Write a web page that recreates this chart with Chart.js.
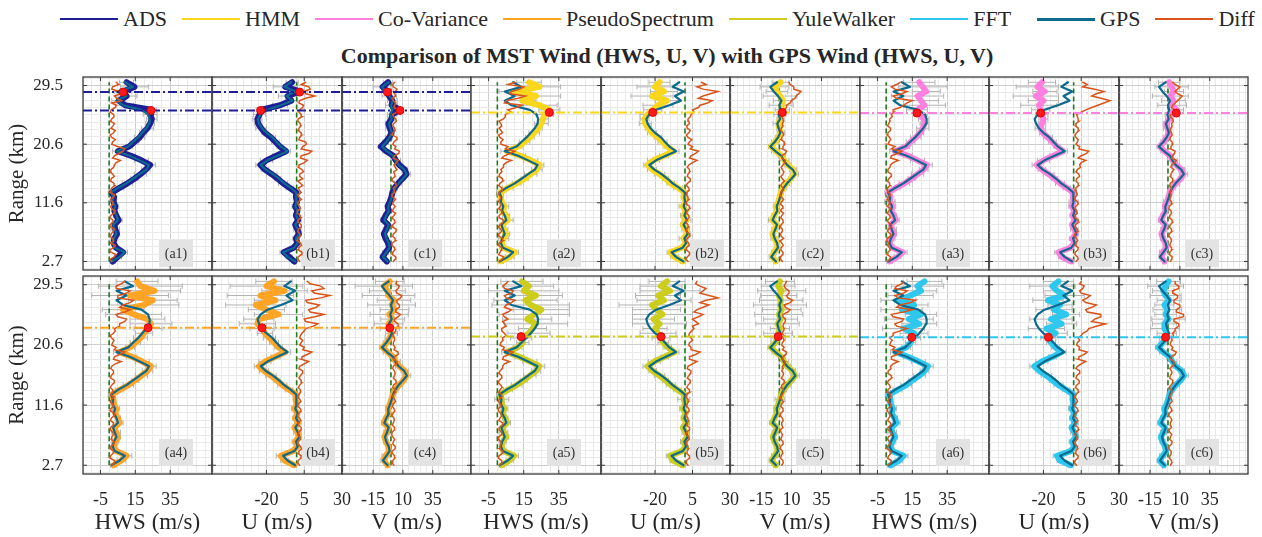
<!DOCTYPE html>
<html lang="en">
<head>
<meta charset="UTF-8">
<title>MST vs GPS wind</title>
<script src="https://cdn.jsdelivr.net/npm/chart.js"></script>
<style>
  body { margin: 0; background: #fff; width: 1262px; height: 537px; position: relative; overflow: hidden;
         font-family: "Liberation Serif", "DejaVu Serif", serif; color: #262626; }
  canvas { position: absolute; }
  #legend { position: absolute; left: 60px; top: 6px; display: flex; align-items: center; font-size: 22px; white-space: nowrap; }
  #legend .ln { display: inline-block; width: 58px; height: 2px; margin-right: 5px; }
  #legend .it { display: flex; align-items: center; margin-right: 15px; }
  #title { position: absolute; left: 667px; transform: translateX(-50%); top: 43px; font-weight: bold; font-size: 22px; white-space: nowrap; }
</style>
</head>
<body>
<div id="legend"></div>
<div id="title">Comparison of MST Wind (HWS, U, V) with GPS Wind (HWS, U, V)</div>
<script>
// heights (km) of the wind profile samples
const heights = [2.7, 3.4, 4.1, 4.8, 5.5, 6.2, 6.9, 7.6, 8.3, 9.0, 9.7, 10.4, 11.1, 11.8, 12.5, 13.2, 13.9, 14.6, 15.3, 16.0,
                 16.7, 17.4, 18.1, 18.8, 19.5, 20.2, 20.9, 21.6, 22.3, 23.0, 23.7, 24.4, 25.1, 25.8, 26.5, 27.2, 27.9, 28.6, 29.3, 30.0];
// heights (km) of the difference samples
const diffHeights = [2.7, 3.05, 3.4, 3.75, 4.1, 4.45, 4.8, 5.15, 5.5, 5.85, 6.2, 6.55, 6.9, 7.25, 7.6, 7.95, 8.3, 8.65, 9.0, 9.35,
                     9.7, 10.05, 10.4, 10.75, 11.1, 11.45, 11.8, 12.15, 12.5, 12.85, 13.2, 13.55, 13.9, 14.25, 14.6, 14.95, 15.3, 15.65, 16.0, 16.35,
                     16.7, 17.05, 17.4, 17.75, 18.1, 18.45, 18.8, 19.15, 19.5, 19.85, 20.2, 20.55, 20.9, 21.25, 21.6, 21.95, 22.3, 22.65, 23.0, 23.35,
                     23.7, 24.05, 24.4, 24.75, 25.1, 25.45, 25.8, 26.15, 26.5, 26.85, 27.2, 27.55, 27.9, 28.25, 28.6, 28.95, 29.3, 29.65, 30.0];

// GPS reference wind
const gpsHws = [1.3, 6, 9, 3.2, 2, 2.7, 4.2, 3.2, 2.3, 5.1, 4.2, 2.7, 3.4, 2, 2.3, 1.1, 5.1, 9.9, 13.7, 17.5, 21.3, 22.9, 17.5, 11.8, 4.2, 10.9, 13.7, 16.6, 19, 21.3, 22.9, 23.2, 22.3, 18.5, 8, 4.2, 9.9, 4.2, 13.7, 9];
const gpsU = [-1, -6, -9, -1.5, 0.7, -0.4, 1.8, 0.7, -0.9, 1.3, -0.4, 0.7, -0.9, 0, -0.4, 0, -3.8, -8.2, -11.6, -15.6, -20.4, -23.8, -19.3, -12.7, -6, -10.4, -13.3, -16, -20, -23, -24.9, -25.8, -23.8, -19.3, -10.4, -2.7, -6.7, -0.9, -8.2, -3.8];
const gpsV = [-2.8, -6.7, -3.9, -1.1, -1.9, -3.9, -5, -3.3, -1.9, -5.6, -3.9, -1.7, -2.2, -0.6, 0.6, 1.7, 3.6, 6.4, 10, 13.3, 11.1, 6.4, 3.6, 1.7, -3.3, -7.5, -3.9, -1.1, 0.8, -0.6, -1.7, 0.6, -0.6, 1.1, 0, 1.7, -1.1, -4.7, -7.5, -1.9];

// ADS
const adsHws = [2, 5, 8, 4, 2.5, 3, 4.5, 3.5, 3, 5.5, 4, 3, 3.5, 2.5, 2.8, 1.5, 6, 10.5, 14.5, 18, 21, 23.5, 18.5, 12.5, 5, 11.5, 14.5, 17.5, 19.5, 22, 23.5, 24.5, 23.5, 24, 9, 5.5, 10, 8, 14.5, 10];
const adsU = [-1.5, -5, -8.5, -2, 0.5, -0.5, 1.5, 0.5, -1, 1, -0.5, 0.5, -1, 0.2, -0.5, -0.2, -4.5, -9, -12.5, -16.5, -21, -24, -20, -13.5, -7, -11, -14, -17, -21, -23.5, -25.5, -26, -24.5, -23.8, -11, -3.5, -6, 2, -7.5, -3];
const adsV = [-3.5, -7, -4.5, -1.5, -2.5, -4.5, -6, -4, -2.5, -6.5, -4.5, -2, -2.8, -1, 0.3, 1.2, 3, 6, 9.5, 13, 11.5, 7, 4, 2, -4, -8.5, -4.5, -1.5, 0.5, -1, -2.2, 0.3, 1, 7.5, 0.5, 1.2, -1.5, -3, -7, -2.5];
const adsHwsDiff = [1.5, 0.5, 3, 4, 1, 0.3, 2.5, 3.5, 0.8, 2.6, 2, 0.5, 1.2, 2.2, 3, 1, 0.5, 1.8, 2.2, 0.4,
                    1, 2.8, 3.5, 1.5, 0.8, 2.4, 1.8, 0.8, 2.5, 3.2, 0.6, 1, 1.5, 3.2, 2.8, 0.9, 1.2, 3, 2, 0.6,
                    1, 2.6, 3, 4, 6.5, 2, 3, 5.5, 8, 9, 5, 1.5, 2, 3.5, 1.5, 0.6, 2.5, 3.5, 1, 2.2,
                    3, 0.8, 1.5, 2.8, 2.5, 0.7, 1.2, 3.5, 4, 1.5, 7, 4.5, 3, 6.5, 6, 1.5, 2, 5.5, 4];
const adsUDiff = [2, 0.8, 1, 3, 3.5, 1.2, 1.5, 3.2, 2.5, 0.6, 0.8, 2.4, 2, 0.7, 1.2, 3, 3, 1.2, 1, 2.8,
                  2.5, 0.5, 0.5, 2.6, 2, 0.8, 1, 3.2, 1.5, 0.6, 3, 1.8, 1.2, 4, 2.5, 0.8, 4, 2.2, 2, 4.5,
                  3.5, 1.2, 1.5, 5, 7, 2.5, 3, 8, 10, 3, 4, 6.5, 6, 1.5, 2, 3.5, 3, 1, 1.5, 2.8,
                  2.5, 0.8, 1, 3.5, 3, 1.5, 2, 4, 4.5, 1.5, 2, 6, 12, 6, 5, 9, 8, 3, 6];
const adsVDiff = [2, 3.5, 4, 1.2, 1.5, 3.2, 3, 0.8, 1, 3.8, 3.5, 1.5, 2, 4.2, 4.5, 1.2, 1.5, 3.5, 3, 0.8,
                  2.5, 3.8, 1, 2.2, 3.5, 1.5, 2, 3.8, 1.5, 0.6, 3, 2.8, 2, 4.5, 4, 1.2, 1, 3.5, 3, 2.2,
                  5, 3.5, 2.5, 4.5, 6, 2, 3, 6.5, 7, 3, 4, 1.5, 2.5, 4.5, 5, 1.2, 1.5, 3.5, 3, 1.5,
                  2, 4.5, 4, 2, 1.5, 5, 6, 2.5, 3, 4, 2, 1, 4, 3, 3.5, 5, 2, 1.5, 3];
const adsErr = [1.5, 2, 2.5, 1.5, 1, 2, 1.5, 2.5, 1, 2, 1.5, 1, 2, 1.5, 1, 2, 2.5, 3, 2, 3.5, 2.5, 3, 4, 2.5, 3, 2, 2.5, 3, 2, 3.5, 2.5, 3, 4, 3, 5, 4, 6, 5, 8, 4];
const adsThr = [28.5, 25.7];
const adsDots = [[8, 2, -3], [24, -23.8, 7.5]];

// HMM
const hmmHws = [2, 7, 10, 3, 2.5, 3.5, 5, 3.5, 3, 6, 5, 3, 4, 2.5, 2, 1.5, 6, 11, 15.5, 19, 22.5, 24, 19, 13, 5.5, 12, 15.5, 18.5, 21, 23.5, 25, 26, 27, 29.6, 24, 14, 22, 10, 24, 18];
const hmmU = [-1.5, -7, -10, -2, 0.5, -1, 1.5, 0.5, -1.5, 1, -1, 0.5, -1.5, 0.3, -1, -0.3, -4.5, -9.5, -13, -17, -22, -25, -21, -14, -7.5, -12, -15, -18, -22, -24.5, -26.5, -27, -25, -21.5, -18, -12, -22, -14, -20, -17];
const hmmV = [-3, -6, -4.5, -1.5, -2, -4, -5.5, -3.8, -2.2, -6, -4.2, -2, -2.5, -1, 0.2, 1.3, 3.2, 6, 9.5, 12.5, 11.5, 7, 4, 2, -3, -7, -3.5, -0.8, 1.2, 0, -1.2, 1, 0.5, 2.5, 1.5, 3, 0.5, -2, -4, 1];
const hmmHwsDiff = [1, 2.8, 3.5, 0.8, 1.5, 2.2, 2.5, 0.6, 1, 3.2, 3, 0.8, 0.8, 2.4, 2, 0.6, 1.5, 3.2, 3.5, 1.2,
                    1, 2.6, 2.5, 0.8, 1.8, 2.2, 0.6, 1.5, 2, 0.8, 1, 2.8, 2.5, 0.8, 1.5, 3.2, 3, 1, 1.2, 2.6,
                    2, 3.5, 3.5, 5, 8, 2.5, 4, 7, 10, 4.5, 6, 2, 2, 3.2, 1.5, 0.6, 3, 2, 1, 2.5,
                    2, 0.8, 3.5, 4.5, 4.5, 8, 6, 11, 14, 4, 5, 12, 16, 7, 8, 13, 15, 6, 10];
const hmmUDiff = [2, 0.6, 1.5, 3, 3, 0.8, 1, 2.8, 2.5, 0.8, 1.5, 3.2, 3, 1, 1, 2.4, 2, 0.6, 0.8, 2.8,
                  2.5, 1, 1.5, 3.2, 3, 0.8, 1, 2.6, 2, 0.8, 1.2, 2.8, 2.5, 1, 1.5, 3.5, 3.5, 1.5, 2, 3.2,
                  3, 1.5, 2.5, 5, 8, 3, 4, 7, 9, 3.5, 5, 2, 3, 4.5, 2, 1, 2.5, 3.5, 1.5, 1.2,
                  3, 2.5, 2, 3.5, 4, 6, 5, 9, 10, 15, 18, 9, 12, 17, 22, 12, 8, 14, 11];
const hmmVDiff = [2.5, 1, 1, 2.8, 3, 1.2, 1.5, 3.2, 2, 0.8, 3.5, 1.5, 1, 2.4, 2.5, 0.8, 1.5, 3.2, 3, 1.2,
                  2, 3.5, 1, 2.2, 3, 0.8, 2, 3.5, 1.5, 0.6, 1, 2.8, 3, 1.2, 2, 4.2, 2.5, 1.2, 3, 3.8,
                  2.5, 1.5, 3, 4.5, 5, 2, 2, 5, 6, 2.5, 3, 4.5, 4, 1.5, 2, 3.5, 3, 1.2, 1.5, 3,
                  2.5, 3.5, 3, 2, 2, 4.5, 4, 6, 6, 9, 10, 13, 14, 16, 18, 12, 12, 9, 8];
const hmmErr = [1.5, 2.5, 2, 1.5, 1, 3, 2, 2.5, 1.5, 3, 2, 1.5, 2.5, 1, 1.5, 2, 3, 2.5, 2, 3.5, 3, 2.5, 4, 3, 3.5, 2, 3, 2.5, 3, 2, 4, 3, 5, 6, 10, 8, 14, 9, 12, 7];
const hmmThr = [25.4];
const hmmDots = [[29.6, -21.5, 2.5]];

// Co-Variance
const covHws = [2, 6.5, 9.5, 3.5, 2, 3, 4.5, 3.5, 2.5, 5.5, 4.5, 3, 3.5, 2.2, 2.5, 1.3, 5.5, 10.5, 14.5, 18, 21.5, 23.5, 18, 12.5, 5, 11.5, 14, 17, 19.5, 21, 22, 21.5, 19.5, 17.7, 22, 20, 18, 23, 21, 19];
const covU = [-1.5, -8, -10, -2, 0.5, -0.8, 1.5, 0.5, -1.2, 1, -0.8, 0.5, -1.2, 0, -0.6, -0.2, -4.5, -9, -12.5, -16.5, -21, -24.5, -20, -13.5, -7, -11, -14, -17, -20.5, -22, -21, -20, -21, -21.8, -23, -20, -25, -19, -24, -21];
const covV = [-3, -5.5, -4.5, -1.5, -2.2, -4.2, -5.5, -3.5, -2.2, -6, -4.2, -2, -2.5, -0.8, 0.4, 1.5, 3.4, 6.8, 10.5, 13, 11.5, 6.8, 3.8, 2, -3, -7, -3.5, -1, 0.5, -0.3, -1.5, 1, 1.5, 7, 3.5, 4.5, 2, 5, 3, 1];
const covHwsDiff = [0.8, 2.2, 2.5, 0.6, 1, 2.4, 2, 0.8, 1.5, 0.4, 0.5, 2.6, 2.5, 0.8, 1.2, 2.8, 3, 1.2, 0.8, 2.4,
                    2, 0.6, 1.5, 2.5, 0.6, 1.8, 2.2, 0.6, 1, 2.6, 1.5, 0.5, 0.8, 2.2, 2, 0.8, 1.5, 2.8, 3, 1,
                    1, 2.2, 2.5, 4, 7, 2.5, 3, 6.5, 9, 3, 5, 1.2, 1.5, 2.6, 2, 0.6, 1, 2.5, 2.5, 0.8,
                    1.5, 2.2, 2, 3.5, 3, 4.5, 4, 8, 10, 12, 15, 6, 4, 9, 12, 5, 3, 6, 8];
const covUDiff = [1.5, 3, 2.5, 0.8, 1, 2.8, 3, 1.2, 1.5, 2.6, 2, 0.6, 0.8, 2.8, 2.5, 1, 1.2, 3.2, 3, 1,
                  1, 2.4, 2, 0.8, 1.5, 3, 2.5, 0.8, 1, 2.4, 2, 1, 1.5, 3.2, 3, 1.5, 2, 3.8, 3.5, 1.5,
                  2.5, 4.5, 4, 5, 8, 3, 5, 8.5, 10, 3.5, 4, 1.5, 2.5, 3, 1.5, 0.8, 2, 3.5, 3, 1.2,
                  1.5, 3.5, 3, 2.5, 2, 5, 8, 12, 16, 20, 24, 18, 12, 15, 20, 14, 6, 9, 6];
const covVDiff = [2, 3.2, 3.5, 1.2, 1.5, 3.2, 3, 1.5, 2, 3, 2.5, 0.8, 1, 3.2, 3, 1.2, 2, 3.8, 3.5, 1.2,
                  1.5, 3, 2.5, 0.8, 1, 3.2, 3, 1.5, 2, 2.8, 1.5, 2.5, 3, 1.5, 2, 4.2, 4, 2, 2.5, 3.5,
                  5, 2.5, 3, 5.5, 7, 3, 4, 5.5, 6, 2, 2.5, 4, 3.5, 1.5, 2, 3.5, 3, 1.5, 2.5, 3.5,
                  3, 4.5, 4, 2, 2, 4.5, 5, 3, 4, 6, 8, 10, 12, 8, 6, 8, 10, 6, 4];
const covErr = [1.5, 2, 2.5, 1.5, 1, 2, 1.5, 2.5, 1, 2, 1.5, 1, 2, 3, 1, 2, 2.5, 3, 2, 3.5, 2.5, 3, 4, 2.5, 3, 2, 2.5, 3, 2, 3.5, 2.5, 3, 4, 6, 12, 10, 15, 8, 14, 9];
const covThr = [25.3];
const covDots = [[17.7, -21.8, 7]];

// PseudoSpectrum
const psHws = [2.5, 7, 10, 4, 2.5, 3.5, 5, 4, 3, 6, 5, 3.5, 4, 2.5, 2.5, 1.5, 6, 11, 15, 18.5, 22, 24, 19, 13, 6, 12, 15, 18, 20, 22.3, 24, 22, 14, 8, 20, 25, 12, 26, 18, 16];
const psU = [-1.5, -8, -10.5, -2.5, 0.5, -1, 1.5, 0.5, -1.5, 1, -1, 0.5, -1.5, 0, -0.8, -0.3, -5, -9.5, -13, -17, -21.5, -25, -21, -14, -7.5, -12, -15, -18, -21, -22.9, -26, -25, -12, -20, -27, -14, -24, -8, -20, -15];
const psV = [-3, -6, -4.5, -1.5, -2.2, -4.2, -5.5, -3.5, -2.2, -6, -4.2, -2, -2.5, -0.8, 0.4, 1.5, 3.4, 6.8, 10.5, 13, 11.5, 6.8, 3.8, 2, -3, -7, -3.5, -1, 0.5, -1, -2, 1.5, -1.5, 3, 0.5, 2.5, -2, -3, -6, -1];
const psHwsDiff = [1.5, 2.8, 3, 0.6, 0.8, 2.2, 2.5, 0.8, 1, 2.6, 3, 1.2, 1.5, 2.4, 2, 0.6, 0.8, 2.2, 2.5, 0.8,
                   1.2, 2.8, 3, 0.8, 1, 2.4, 2, 0.6, 1.5, 2.8, 0.8, 2.2, 2, 0.6, 1.5, 2.8, 3, 0.8, 1.2, 2.4,
                   2.5, 1, 1.5, 3.5, 7, 2.5, 3, 6, 9, 3, 4, 1.5, 2, 2.8, 1.5, 0.6, 2.5, 3.5, 3, 6,
                   6, 9, 10, 5, 4, 9, 12, 6, 8, 12, 14, 5, 5, 10, 12, 4, 4, 7, 9];
const psUDiff = [2, 0.8, 1, 2.8, 3, 1, 1.5, 3.2, 2.5, 0.8, 1, 2.6, 2, 0.6, 1.5, 3, 3, 1.2, 1, 2.8,
                 2, 0.6, 1.5, 3, 2.5, 0.8, 1, 2.8, 2, 0.8, 1.5, 2.6, 2.5, 1, 2, 3.5, 3, 1.5, 2.5, 3.8,
                 4, 1.5, 2, 5, 8, 3, 3.5, 7, 10, 4, 5, 2, 3, 4, 2, 2.5, 3.5, 5, 6, 11,
                 14, 6, 5, 12, 18, 9, 8, 13, 15, 7, 6, 16, 22, 12, 10, 18, 16, 9, 7];
const psVDiff = [2.5, 1, 1.5, 3.2, 3, 1.2, 1, 3.5, 3.5, 1.5, 2, 3.2, 1.5, 0.6, 1, 2.8, 3, 1.2, 2, 2.8,
                 2.5, 0.8, 1.5, 3.2, 2.5, 1.2, 2, 3.8, 3, 1.5, 2, 3.8, 3.5, 1.5, 2, 4.5, 4, 2, 3, 3.5,
                 3, 1.5, 2, 5, 5, 2, 3, 6, 6, 2.5, 3.5, 2, 2, 3, 3, 1.5, 2.5, 4, 4, 6,
                 6, 3, 3, 6, 8, 4, 4, 7, 7, 5, 5, 8, 9, 5, 4, 6, 7, 4, 5];
const psErr = [1.5, 2.5, 3, 1.5, 1, 2, 1.5, 2.5, 1, 2, 1.5, 1, 2, 1.5, 1, 2, 2.5, 3, 2, 3.5, 3, 3, 4, 3, 3.5, 2.5, 3, 4, 5, 8, 12, 10, 16, 12, 20, 14, 22, 15, 24, 12];
const psThr = [23.1];
const psDots = [[22.3, -22.9, -1]];

// YuleWalker
const ywHws = [2.5, 7, 9.5, 3.5, 2.5, 3, 5, 3.5, 3, 5.5, 4.5, 3, 4, 2.5, 2.5, 1.5, 6, 11, 15, 18.5, 22, 24, 18.5, 12.5, 5.5, 11.5, 14.5, 13.5, 18, 20, 22, 17, 21, 25, 19, 16, 22, 15, 18, 14];
const ywU = [-1.5, -8, -10, -2, 0.5, -1, 1.5, 0.5, -1.5, 1, -1, 0.5, -1.5, 0, -0.8, -0.3, -5, -9.5, -13, -17, -21.5, -25, -20.5, -13.5, -7, -11.5, -14.5, -16, -18, -20, -17, -21, -15, -19, -22, -14, -18, -10, -16, -12];
const ywV = [-3, -6.5, -4, -1.5, -2, -4, -5.5, -3.5, -2, -6, -4, -2, -2.5, -0.8, 0.4, 1.5, 3.4, 6.5, 10, 13, 11, 6.5, 3.8, 2, -3, -7, -3.5, -1, -1, 0.5, -1.5, 1, -0.5, 2, 0.5, 1.5, -0.5, 2, -1, 0.5];
const ywHwsDiff = [1.2, 2.6, 2.5, 0.6, 1, 2.8, 3, 1.2, 1.5, 2.2, 2, 0.6, 0.8, 2.4, 2.5, 1, 1, 2.8, 3, 0.8,
                   1.5, 2.6, 2, 0.6, 0.6, 2, 1.8, 0.6, 1, 2.6, 2.5, 0.8, 1.5, 2.8, 2, 0.6, 1, 2.4, 2.5, 0.8,
                   1.5, 2.8, 3, 4, 7, 3, 3.5, 6.5, 9, 3, 4, 1.5, 2, 3.2, 3, 5, 4, 2.5, 2.5, 5,
                   4, 3, 6, 4, 3, 6, 8, 4, 5, 8, 10, 5, 4, 8, 9, 4, 3, 5, 6];
const ywUDiff = [2, 0.8, 1, 2.8, 3, 1.2, 1.5, 2.4, 2, 0.8, 1.2, 2.8, 2.5, 0.8, 1, 3, 3, 1.2, 1.5, 2.4,
                 2, 0.6, 1, 2.8, 2.5, 1, 1.5, 2.4, 2, 0.6, 1, 3.2, 3, 1.2, 2, 3.5, 3.5, 1.5, 2.5, 3.8,
                 4, 1.5, 2, 5, 8, 3, 3, 7, 10, 4, 4, 2.5, 3, 5, 4, 2.5, 3, 4.5, 6, 5,
                 9, 7, 5, 9, 12, 6, 8, 12, 16, 10, 14, 22, 16, 10, 12, 14, 10, 7, 8];
const ywVDiff = [2, 3.2, 3, 1, 1.5, 2.8, 2.5, 0.8, 1, 3.2, 3, 1.2, 2, 2.6, 1.5, 0.6, 3, 2, 2, 3.2,
                 2.5, 0.8, 1, 3.2, 3, 1.2, 2, 3.5, 1.5, 0.6, 2.5, 3.5, 3.5, 1.5, 2, 4.2, 4, 1.5, 3, 3.5,
                 2, 3, 2.5, 4.5, 5, 2, 3, 5.5, 6, 2.5, 4, 2, 2.5, 4, 3, 4, 2, 3.5, 4, 3,
                 3.5, 5, 5, 3, 3, 7, 9, 5, 4, 9, 11, 7, 6, 8, 8, 5, 4, 5, 6];
const ywErr = [1.5, 2, 2.5, 1.5, 1, 2, 1.5, 2.5, 1, 2, 1.5, 1, 2, 1.5, 4, 2, 2.5, 3, 2, 3.5, 2.5, 3, 4, 2.5, 3, 2.5, 3.5, 6, 12, 8, 18, 14, 20, 16, 22, 18, 15, 20, 14, 12];
const ywThr = [21.8];
const ywDots = [[13.5, -16, -1]];

// FFT
const fftHws = [2.5, 7.5, 10, 3.5, 2.5, 3.5, 5, 3.5, 3, 6, 5, 3, 4, 2.5, 2.5, 1.5, 6.5, 11.5, 15, 19, 22, 24, 18.5, 12.5, 5.5, 11.5, 14, 14.7, 16, 10, 19, 13, 20, 9, 16, 7, 14, 20, 18, 22];
const fftU = [-2, -9, -11, -2, 0.5, -1, 1.5, 0.5, -1.5, 1, -1, 0.5, -1.5, 0, -0.8, -0.3, -5, -10, -14, -18, -22.5, -26, -21, -14, -8, -12, -15, -16.7, -12, -18, -8, -15, -5, -13, -9, -17, -6, -11, -14, -10];
const fftV = [-3.5, -7, -4.5, -1.5, -2.5, -4.5, -6, -3.8, -2.5, -6.5, -4.5, -2.2, -3, -1, 0.2, 1.3, 3.2, 6.5, 10.5, 13.5, 11.5, 6.5, 3.5, 1.5, -4, -8, -4.5, -2, -1, -2.5, -3, 0.5, -2, -0.5, -3, 1, -2, -4, -2, 0.5];
const fftHwsDiff = [1, 2.6, 3, 0.8, 1.5, 2.8, 2.5, 0.6, 0.8, 2.2, 2, 0.8, 1.2, 3.2, 3, 1, 1, 2.8, 2.5, 0.8,
                    1.5, 2.4, 2, 0.6, 0.8, 2.8, 2.5, 0.8, 1.5, 2.8, 2.5, 0.8, 1, 2.4, 2, 0.6, 1.5, 3.2, 3, 1,
                    1.2, 2.8, 2.5, 4, 7, 3, 3, 6, 9, 3.5, 5, 2, 2.5, 3.5, 2, 4, 4, 8, 12, 6,
                    5, 9, 10, 4, 3, 10, 15, 6, 8, 14, 17, 7, 5, 10, 12, 5, 6, 9, 10];
const fftUDiff = [2, 0.6, 1, 2.8, 3, 1.2, 1.5, 2.6, 2.5, 0.8, 1, 2.4, 2, 0.8, 1.5, 3.2, 3, 1, 1, 2.8,
                  2, 0.6, 1.5, 3, 2.5, 0.8, 1, 2.6, 2, 0.6, 1.5, 3.2, 3, 1.2, 2, 3.8, 3.5, 1.5, 2, 3.8,
                  4, 1.5, 2.5, 5, 8, 3, 3.5, 7, 9, 3.5, 4, 2, 2.5, 4, 3, 5, 6, 9, 10, 15,
                  21, 12, 14, 18, 18, 9, 8, 12, 15, 8, 6, 9, 11, 5, 4, 6, 7, 4, 5];
const fftVDiff = [2, 3.2, 3, 1.2, 1.5, 2.8, 2.5, 0.8, 1, 3, 3.5, 1.5, 2, 3.2, 1.5, 0.6, 3, 2.2, 2, 3.2,
                  2.5, 0.8, 1, 3.2, 3, 1.2, 1.5, 3.5, 3, 1.2, 2, 3.5, 2.5, 1, 2.5, 4.2, 4, 1.5, 2, 3.2,
                  3, 1.5, 3.5, 5, 5, 2, 3, 6, 7, 3, 4, 2, 2, 3.5, 3, 4.5, 4, 6, 6, 9,
                  9, 5, 5, 13, 13, 7, 7, 10, 10, 5, 5, 8, 8, 4, 4, 9, 9, 6, 6];
const fftErr = [1.5, 2, 2.5, 1.5, 1, 2, 1.5, 2.5, 1, 2, 1.5, 1, 2, 1.5, 1, 2, 2.5, 3, 2, 3.5, 2.5, 3, 4, 2.5, 3, 2.5, 3, 5, 8, 12, 10, 14, 9, 12, 8, 10, 13, 9, 15, 10];
const fftThr = [21.7];
const fftDots = [[14.7, -16.7, -2]];

// names, colours, ticks
const methodNames = ['ADS', 'HMM', 'Co-Variance', 'PseudoSpectrum', 'YuleWalker', 'FFT'];
const methodColors = ['#1e1e96', '#fad61c', '#ff80df', '#ffa424', '#cdcd1e', '#2ec8ef'];
const gpsColor = '#0b6a8d';
const diffColor = '#d9541a';
const compTitles = ['HWS (m/s)', 'U (m/s)', 'V (m/s)'];
const compLetters = ['a', 'b', 'c'];
const hwsTicks = [-5, 15, 35];
const uTicks = [-20, 5, 30];
const vTicks = [-15, 10, 35];
const rangeTicks = ['2.7', '11.6', '20.6', '29.5'];

const methods = [
  { mst: [adsHws, adsU, adsV], diff: [adsHwsDiff, adsUDiff, adsVDiff], err: adsErr, thr: adsThr, dots: adsDots },
  { mst: [hmmHws, hmmU, hmmV], diff: [hmmHwsDiff, hmmUDiff, hmmVDiff], err: hmmErr, thr: hmmThr, dots: hmmDots },
  { mst: [covHws, covU, covV], diff: [covHwsDiff, covUDiff, covVDiff], err: covErr, thr: covThr, dots: covDots },
  { mst: [psHws, psU, psV], diff: [psHwsDiff, psUDiff, psVDiff], err: psErr, thr: psThr, dots: psDots },
  { mst: [ywHws, ywU, ywV], diff: [ywHwsDiff, ywUDiff, ywVDiff], err: ywErr, thr: ywThr, dots: ywDots },
  { mst: [fftHws, fftU, fftV], diff: [fftHwsDiff, fftUDiff, fftVDiff], err: fftErr, thr: fftThr, dots: fftDots }
];
const gps = [gpsHws, gpsU, gpsV];
const compTicks = [hwsTicks, uTicks, vTicks];

// layout
const xRanges = [[-15, 59], [-56, 30], [-41, 67]];
const yMin = 1.4, yMax = 30.8;
const PL = 83, PW = 129.44, PH = 198, ROWTOP = [77, 276];
const boxX = [93, 106, 83];
const FONT = '"Liberation Serif", "DejaVu Serif", serif';

// legend
const legend = document.getElementById('legend');
methodNames.concat(['GPS', 'Diff']).forEach((name, i) => {
  const col = i < 6 ? methodColors[i] : (i === 6 ? gpsColor : diffColor);
  const it = document.createElement('span');
  it.className = 'it';
  if (i === 6) it.style.marginLeft = '11px';
  it.innerHTML = '<span class="ln" style="background:' + col + (i === 6 ? ';height:3px' : '') + '"></span>' + name;
  legend.appendChild(it);
});

const framePlugin = {
  id: 'frame',
  beforeDatasetsDraw(chart, args, opts) {
    const { ctx, chartArea: a } = chart;
    ctx.save();
    ctx.fillStyle = '#e3e3e3';
    ctx.fillRect(a.left + opts.boxX - 17, a.top + 163, 34, 27);
    ctx.fillStyle = '#333';
    ctx.font = '14px ' + FONT;
    ctx.textAlign = 'center';
    ctx.textBaseline = 'middle';
    ctx.fillText(opts.label, a.left + opts.boxX, a.top + 177);
    ctx.restore();
  },
  afterDraw(chart, args, opts) {
    const { ctx, chartArea: a, scales } = chart;
    ctx.save();
    ctx.strokeStyle = '#3a3a3a';
    ctx.lineWidth = 1.3;
    ctx.strokeRect(a.left, a.top, a.right - a.left, a.bottom - a.top);
    ctx.lineWidth = 1;
    ctx.beginPath();
    opts.xMajor.forEach(v => {
      const px = scales.x.getPixelForValue(v);
      ctx.moveTo(px, a.bottom); ctx.lineTo(px, a.bottom - 4);
      ctx.moveTo(px, a.top); ctx.lineTo(px, a.top + 4);
    });
    scales.y.ticks.filter(t => t.isMajor).forEach(t => {
      const py = scales.y.getPixelForValue(t.value);
      ctx.moveTo(a.left, py); ctx.lineTo(a.left + 4, py);
      ctx.moveTo(a.right, py); ctx.lineTo(a.right - 4, py);
    });
    ctx.stroke();
    ctx.restore();
  }
};

function profile(hs, vals) {
  return hs.map((h, i) => ({ x: vals[i], y: h }));
}

function errorBars(vals, err) {
  const pts = [];
  heights.forEach((h, i) => {
    const lo = vals[i] - err[i], hi = vals[i] + err[i];
    pts.push({ x: lo, y: h }, { x: hi, y: h }, { x: null, y: null });
    pts.push({ x: lo, y: h - 0.4 }, { x: lo, y: h + 0.4 }, { x: null, y: null });
    pts.push({ x: hi, y: h - 0.4 }, { x: hi, y: h + 0.4 }, { x: null, y: null });
  });
  return pts;
}

function makePanel(m, c, row, col) {
  const meth = methods[m];
  const [xmin, xmax] = xRanges[c];
  const x0 = Math.round(PL + col * PW), x1 = Math.round(PL + (col + 1) * PW);
  const padL = col === 0 ? 83 : 24, padR = 24, padT = 8, padB = row === 1 ? 63 : 0;

  const cv = document.createElement('canvas');
  cv.width = x1 - x0 + padL + padR;
  cv.height = PH + padT + padB;
  cv.style.left = (x0 - padL) + 'px';
  cv.style.top = (ROWTOP[row] - padT) + 'px';
  document.body.appendChild(cv);

  const line = (data, color, width, extra) => Object.assign({
    data, borderColor: color, backgroundColor: color, borderWidth: width, showLine: true,
    pointRadius: 0, spanGaps: false, clip: 0, borderJoinStyle: 'round', borderCapStyle: 'round'
  }, extra || {});

  // back to front
  const sets = [];
  sets.push(line(errorBars(meth.mst[c], meth.err), '#b4b4b4', 1, { borderCapStyle: 'butt' }));
  sets.push(line([{ x: 0, y: heights[0] }, { x: 0, y: heights[heights.length - 1] }], '#1d7a1d', 1.6, { borderDash: [5, 3], borderCapStyle: 'butt' }));
  sets.push(line(profile(heights, meth.mst[c]), methodColors[m], 6));
  sets.push(line(profile(heights, gps[c]), gpsColor, 2.2));
  sets.push(line(profile(diffHeights, meth.diff[c]), diffColor, 1.5, { borderJoinStyle: 'miter' }));
  meth.thr.forEach(t => {
    sets.push(line([{ x: xmin, y: t }, { x: xmax, y: t }], methodColors[m], 2, { borderDash: [9, 3, 2, 3], borderCapStyle: 'butt' }));
  });
  sets.push({
    data: meth.thr.map((t, k) => ({ x: meth.dots[k][c], y: t })),
    pointRadius: 4, backgroundColor: '#ff1a1a', borderColor: '#e00000', borderWidth: 1, showLine: false, clip: 0
  });
  // first dataset is drawn on top
  sets.reverse();

  const xMajor = compTicks[c];
  const yStep = (parseFloat(rangeTicks[3]) - parseFloat(rangeTicks[0])) / 24;

  new Chart(cv, {
    type: 'scatter',
    data: { datasets: sets },
    options: {
      responsive: false, animation: false, events: [],
      layout: { padding: { left: col === 0 ? 0 : padL, right: padR, top: padT, bottom: 0 } },
      plugins: {
        legend: { display: false }, tooltip: { enabled: false },
        frame: { label: '(' + compLetters[c] + (m + 1) + ')', boxX: boxX[c], xMajor }
      },
      scales: {
        x: {
          type: 'linear', min: xmin, max: xmax,
          afterBuildTicks: s => {
            const t = [];
            for (let v = Math.ceil(xmin / 5) * 5; v <= xmax; v += 5) t.push({ value: v, isMajor: xMajor.includes(v) });
            s.ticks = t;
          },
          afterFit: s => { s.height = row === 1 ? 63 : 0; s.paddingLeft = 0; s.paddingRight = 0; },
          grid: { drawTicks: false, lineWidth: 1, color: ctx => (ctx.tick && ctx.tick.isMajor) ? '#cdcdcd' : '#e9e9e9' },
          border: { display: false },
          ticks: {
            display: row === 1, autoSkip: false, maxRotation: 0, padding: 15, color: '#262626',
            font: { family: FONT, size: 18 },
            callback: v => xMajor.includes(v) ? String(v) : ''
          },
          title: { display: row === 1, text: compTitles[c], color: '#262626', font: { family: FONT, size: 23 }, padding: { top: 0, bottom: 0 } }
        },
        y: {
          type: 'linear', min: yMin, max: yMax,
          afterBuildTicks: s => {
            const t = [];
            for (let k = -2; k <= 26; k++) {
              const v = parseFloat(rangeTicks[0]) + k * yStep;
              if (v < yMin || v > yMax) continue;
              const major = k >= 0 && k % 8 === 0 && k / 8 < rangeTicks.length;
              t.push({ value: v, isMajor: major, lbl: major ? rangeTicks[k / 8] : '' });
            }
            s.ticks = t;
          },
          afterFit: s => { s.width = col === 0 ? 83 : 0; s.paddingTop = 0; s.paddingBottom = 0; },
          grid: { drawTicks: false, lineWidth: 1, color: ctx => (ctx.tick && ctx.tick.isMajor) ? '#cdcdcd' : '#e9e9e9' },
          border: { display: false },
          ticks: {
            display: col === 0, autoSkip: false, padding: 20, color: '#262626',
            font: { family: FONT, size: 17 },
            callback: (v, i, ticks) => ticks[i].lbl
          },
          title: { display: col === 0, text: 'Range (km)', color: '#262626', font: { family: FONT, size: 21 }, padding: { top: 5, bottom: 0 } }
        }
      }
    },
    plugins: [framePlugin]
  });
}

for (let m = 0; m < 6; m++) {
  const row = Math.floor(m / 3);
  for (let c = 0; c < 3; c++) {
    makePanel(m, c, row, (m % 3) * 3 + c);
  }
}
</script>
</body>
</html>
